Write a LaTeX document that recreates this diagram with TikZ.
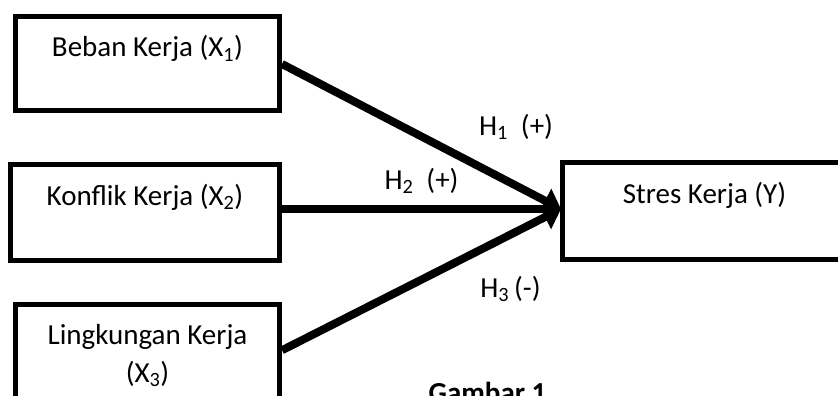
\documentclass[tikz,border=0pt]{standalone}
\usepackage{fontspec}
\setmainfont{Carlito}
\usetikzlibrary{arrows.meta}
\begin{document}
\begin{tikzpicture}[x=1pt,y=-1pt,
  box/.style={draw=black,line width=5pt,inner sep=0pt,minimum width=#1},
  lbl/.style={anchor=base,inner sep=0pt,font=\fontsize{29}{38}\selectfont},
  conn/.style={line width=8pt,-{Triangle[length=18pt,width=26pt]}}]
\useasboundingbox (0,0) rectangle (838,396);
\clip (0,0) rectangle (838,396);
\fill[white] (0,0) rectangle (838,396);
% boxes
\node[box=264.5pt,minimum height=94pt] (b1) at (147.25,63.5) {};
\node[box=269pt,minimum height=96pt] (b2) at (145,212.5) {};
\node[box=264.5pt,minimum height=115.5pt] (b3) at (147.25,362.25) {};
\node[box=287.5pt,minimum height=97pt] (by) at (706.25,211) {};
% texts
\node[lbl] (t1) at (147.5,57) {Beban Kerja (X\textsubscript{1})};
\node[lbl] (t2) at (145,205) {Konflik Kerja (X\textsubscript{2})};
\node[lbl,align=center] (t3) at (147.5,344) {Lingkungan Kerja};
\node[lbl] (t3b) at (147.5,382) {(X\textsubscript{3})};
\node[lbl] (ty) at (704.5,203) {Stres Kerja (Y)};
% connectors
\coordinate (tip) at (561,209);
\draw[conn] ([yshift=-0.5pt]b1.east) -- (tip);
\draw[conn] ([yshift=3.5pt]b2.east) -- (tip);
\draw[conn] ([yshift=12pt]b3.east) -- (tip);
% hypothesis labels
\node[lbl] (h1) at (516,135) {H\textsubscript{1}\ \ (+)};
\node[lbl] (h2) at (421.5,189) {H\textsubscript{2}\ \ (+)};
\node[lbl] (h3) at (510.5,297) {H\textsubscript{3}\,(-)};
\node[lbl,font=\fontsize{29}{38}\selectfont\bfseries] (cap) at (487.5,402) {Gambar 1};
\end{tikzpicture}
\end{document}
